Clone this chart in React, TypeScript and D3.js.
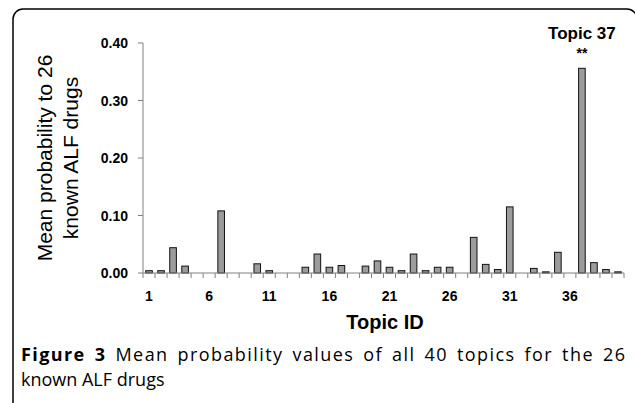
import React, { useEffect, useRef } from "react";
import * as d3 from "d3";

// mean probability per topic (topics 1..40)
const topicIds = [
  "1", "2", "3", "4", "5", "6", "7", "8", "9", "10",
  "11", "12", "13", "14", "15", "16", "17", "18", "19", "20",
  "21", "22", "23", "24", "25", "26", "27", "28", "29", "30",
  "31", "32", "33", "34", "35", "36", "37", "38", "39", "40",
];
const meanProb = [
  0.004, 0.004, 0.044, 0.012, 0, 0, 0.108, 0, 0, 0.016,
  0.004, 0, 0, 0.01, 0.033, 0.01, 0.013, 0, 0.012, 0.021,
  0.01, 0.004, 0.033, 0.004, 0.01, 0.01, 0, 0.062, 0.015, 0.006,
  0.115, 0, 0.008, 0.002, 0.036, 0, 0.356, 0.018, 0.006, 0.002,
];
const xTickLabels = ["1", "6", "11", "16", "21", "26", "31", "36"];
const yTicks = [0, 0.1, 0.2, 0.3, 0.4];
const highlight = { topic: "37", label: "Topic 37", mark: "**" };
const captionLines = [
  "Mean probability values of all 40 topics for the 26",
  "known ALF drugs",
];

const W = 635;
const H = 403;
const axisFont = "'Liberation Sans', Arial, sans-serif";
const capFont = "'Open Sans', sans-serif";

const App: React.FC = () => {
  const svgRef = useRef<SVGSVGElement>(null);

  useEffect(() => {
    if (!svgRef.current) return;
    const svg = d3.select(svgRef.current);
    svg.selectAll("*").remove();

    const x = d3.scaleBand().domain(topicIds).range([143, 624]).padding(0);
    const y = d3.scaleLinear().domain([0, 0.4]).range([273, 43]);
    const barW = x.bandwidth() * 0.55;

    // frame
    svg
      .append("rect")
      .attr("x", 13)
      .attr("y", 9)
      .attr("width", 624)
      .attr("height", 430)
      .attr("rx", 10)
      .attr("fill", "none")
      .attr("stroke", "#000")
      .attr("stroke-width", 1.5);

    // bars
    svg
      .append("g")
      .selectAll("rect")
      .data(meanProb)
      .enter()
      .append("rect")
      .attr("x", (d, i) => x(topicIds[i])! + (x.bandwidth() - barW) / 2)
      .attr("y", (d) => y(d))
      .attr("width", barW)
      .attr("height", (d) => y(0) - y(d))
      .attr("fill", "#9c9c9c")
      .attr("stroke", (d) => (d > 0 ? "#111" : "none"))
      .attr("stroke-width", 1);

    // y axis
    const yAxis = svg.append("g").attr("transform", `translate(${x.range()[0]},0)`);
    yAxis
      .append("line")
      .attr("y1", y(0.4))
      .attr("y2", y(0))
      .attr("stroke", "#808080");
    yTicks.forEach((t) => {
      yAxis
        .append("line")
        .attr("x1", -5)
        .attr("x2", 0)
        .attr("y1", y(t))
        .attr("y2", y(t))
        .attr("stroke", "#808080");
      yAxis
        .append("text")
        .attr("x", -15)
        .attr("y", y(t))
        .attr("dy", "0.36em")
        .attr("text-anchor", "end")
        .attr("font-family", axisFont)
        .attr("font-weight", "bold")
        .attr("font-size", 14)
        .text(t.toFixed(2));
    });

    // x axis
    const xAxis = svg.append("g").attr("transform", `translate(0,${y(0)})`);
    xAxis
      .append("line")
      .attr("x1", x.range()[0])
      .attr("x2", x.range()[1])
      .attr("stroke", "#808080");
    topicIds.concat(["end"]).forEach((id, i) => {
      const px = i < topicIds.length ? x(id)! : x.range()[1];
      xAxis
        .append("line")
        .attr("x1", px)
        .attr("x2", px)
        .attr("y1", 0)
        .attr("y2", 5)
        .attr("stroke", "#808080");
    });
    xTickLabels.forEach((lab) => {
      xAxis
        .append("text")
        .attr("x", x(lab)! + x.bandwidth() / 2)
        .attr("y", 28)
        .attr("text-anchor", "middle")
        .attr("font-family", axisFont)
        .attr("font-weight", "bold")
        .attr("font-size", 14)
        .text(lab);
    });

    svg
      .append("text")
      .attr("x", 385)
      .attr("y", 329)
      .attr("text-anchor", "middle")
      .attr("font-family", axisFont)
      .attr("font-weight", "bold")
      .attr("font-size", 20)
      .text("Topic ID");

    // y title
    const yt = svg
      .append("text")
      .attr("transform", `translate(52,158) rotate(-90)`)
      .attr("text-anchor", "middle")
      .attr("font-family", axisFont)
      .attr("font-size", 21);
    yt.append("tspan").attr("x", 0).attr("y", 0).text("Mean probability to 26");
    yt.append("tspan").attr("x", 0).attr("y", 26).text("known ALF drugs");

    // highlight annotation
    const hx = x(highlight.topic)! + x.bandwidth() / 2;
    svg
      .append("text")
      .attr("x", hx)
      .attr("y", 39)
      .attr("text-anchor", "middle")
      .attr("font-family", axisFont)
      .attr("font-weight", "bold")
      .attr("font-size", 17)
      .text(highlight.label);
    svg
      .append("text")
      .attr("x", hx)
      .attr("y", 58)
      .attr("text-anchor", "middle")
      .attr("font-family", axisFont)
      .attr("font-weight", "bold")
      .attr("font-size", 14)
      .text(highlight.mark);

    // caption (first line justified to the frame width)
    const c1 = svg
      .append("text")
      .attr("x", 21)
      .attr("y", 361)
      .attr("font-family", capFont)
      .attr("font-size", 18)
      .attr("word-spacing", 3);
    c1.append("tspan").attr("font-weight", "bold").text("Figure 3");
    c1.append("tspan").text(" " + captionLines[0]);
    const full = "Figure 3 " + captionLines[0];
    const natural = (c1.node() as SVGTextElement).getComputedTextLength();
    const target = 625 - 21;
    if (natural < target) c1.attr("letter-spacing", (target - natural) / (full.length - 1));

    svg
      .append("text")
      .attr("x", 21)
      .attr("y", 386)
      .attr("font-family", capFont)
      .attr("font-size", 18)
      .text(captionLines[1]);
  }, []);

  return (
    <div style={{ position: "absolute", left: 0, top: 0 }}>
      <svg ref={svgRef} width={W} height={H} style={{ background: "#fff", display: "block" }} />
    </div>
  );
};

export default App;
